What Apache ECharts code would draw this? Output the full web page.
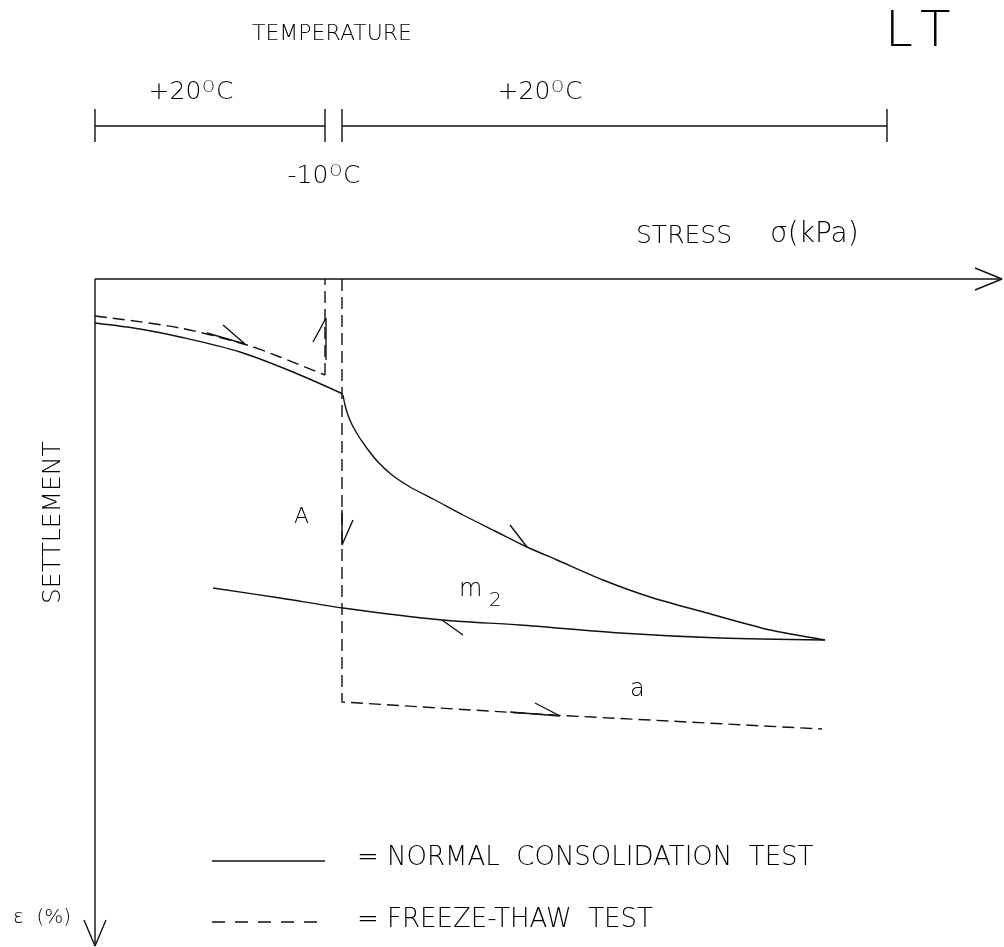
<!DOCTYPE html>
<html>
<head>
<meta charset="utf-8">
<script src="https://cdn.jsdelivr.net/npm/echarts@6/dist/echarts.min.js"></script>
<style>
html, body { margin: 0; padding: 0; background: #fff; }
#chart { width: 1004px; height: 947px; }
</style>
</head>
<body>
<div id="chart"></div>
<script>
// stress on x, settlement on y (positive downward), drawing units from the axis corner
var normalLoadA = [[0, 44], [45, 50], [85, 58], [145, 73], [198, 93], [248, 115]]
var normalLoadB = [[248, 116], [250, 126], [254, 139], [261, 153], [271, 168], [283, 183], [297, 196], [315, 208], [340, 221], [368, 236], [400, 252], [432, 268], [462, 281], [508, 301], [555, 318], [612, 334], [675, 351], [730, 361]]
var normalUnload = [[118, 309], [185, 319], [248, 329], [347, 341], [425, 346], [525, 354], [625, 359], [730, 361]]
var freezeCurve = [[0, 37], [85, 49], [152, 66], [185, 78], [230, 96]]
var freezeUp = [[230, 96], [230, 0]]
var thawDown = [[247, 0], [247, 423], [458, 436], [727, 450]]

// direction marks: shaft -> tip -> barb
var arrowMarks = [
  [[112, 54], [150, 65], [128, 46]],
  [[231, 81], [231, 39], [218, 63]],
  [[247, 231], [247, 266], [258, 241]],
  [[415, 246], [432, 268]],
  [[347, 341], [368, 356]],
  [[415, 433], [465, 437], [440, 424]]
]

// axes drawn as open arrows
var stressAxis = [[0, 0], [907, 0]]
var stressHead = [[880, -11], [907, 0], [880, 11]]
var settleAxis = [[0, 0], [0, 667]]
var settleHead = [[-11, 641], [0, 667], [11, 641]]

// temperature history bar above the plot
var tempBarY = -153
var tempSpans = [[0, 230], [247, 792]]
var tempTicks = [0, 230, 247, 792]

var ink = '#111'
var font = 'DejaVu Sans'

function path(data, dashed, smooth) {
  return {
    type: 'line',
    data: data,
    symbol: 'none',
    smooth: smooth || false,
    silent: true,
    animation: false,
    lineStyle: { color: ink, width: 1.4, type: dashed ? [12, 6] : 'solid' }
  }
}

var series = []
series.push(path(normalLoadA, false, 0.3))
series.push(path(normalLoadB, false, 0.25))
series.push(path(normalUnload, false, 0.3))
series.push(path(freezeCurve, true, 0.3))
series.push(path(freezeUp, true))
series.push(path(thawDown, true))
arrowMarks.forEach(function (a) { series.push(path(a)) })
series.push(path(stressAxis), path(stressHead), path(settleAxis), path(settleHead))
tempSpans.forEach(function (s) {
  series.push(path([[s[0], tempBarY], [s[1], tempBarY]]))
})
tempTicks.forEach(function (t) {
  series.push(path([[t, tempBarY - 17], [t, tempBarY + 16]]))
})

function txt(x, y, s, size, extra) {
  var st = { text: s, x: 0, y: 0, fill: '#000', font: '300 ' + size + 'px "' + font + '"', textVerticalAlign: 'middle' }
  var el = { type: 'text', x: x, y: y, style: st, silent: true }
  if (extra) Object.keys(extra).forEach(function (k) { el[k] = extra[k] })
  return el
}

function degree(x, y, s) {
  return {
    type: 'text', x: x, y: y, silent: true,
    style: {
      text: '{t|' + s + '}{d|O}{t|C}',
      align: 'center', verticalAlign: 'middle',
      rich: {
        t: { fontSize: 25, fontWeight: 300, fontFamily: font, fill: '#000', verticalAlign: 'bottom' },
        d: { fontSize: 16, fontWeight: 300, fontFamily: font, fill: '#000', verticalAlign: 'top', padding: [0, 1, 0, 1] }
      }
    }
  }
}

var chart = echarts.init(document.getElementById('chart'))
chart.setOption({
  backgroundColor: '#fff',
  animation: false,
  grid: { left: 0, right: 0, top: 0, bottom: 0 },
  xAxis: { type: 'value', min: -95, max: 909, show: false },
  yAxis: { type: 'value', min: -279, max: 668, inverse: true, show: false },
  series: series,
  graphic: [
    txt(252, 34, 'TEMPERATURE', 22),
    txt(885, 33, 'L', 50),
    txt(920, 33, 'T', 50),
    degree(191, 92, '+20'),
    degree(540, 92, '+20'),
    degree(324, 176, '-10'),
    txt(636, 236, 'STRESS', 25),
    txt(770, 235, 'σ(kPa)', 28),
    txt(53, 604, 'SETTLEMENT', 25, { rotation: Math.PI / 2 }),
    txt(294, 517, 'A', 22),
    txt(459, 590, 'm', 24),
    txt(489, 601, '2', 20),
    txt(630, 690, 'a', 24),
    { type: 'line', shape: { x1: 212, y1: 861, x2: 325, y2: 861 }, style: { stroke: ink, lineWidth: 1.4 }, silent: true },
    { type: 'line', shape: { x1: 212, y1: 922, x2: 318, y2: 922 }, style: { stroke: ink, lineWidth: 1.4, lineDash: [13, 10] }, silent: true },
    txt(357, 858, '= NORMAL  CONSOLIDATION  TEST', 26),
    txt(357, 920, '= FREEZE-THAW  TEST', 26),
    txt(13, 918, 'ε  (%)', 20)
  ]
})
</script>
</body>
</html>
